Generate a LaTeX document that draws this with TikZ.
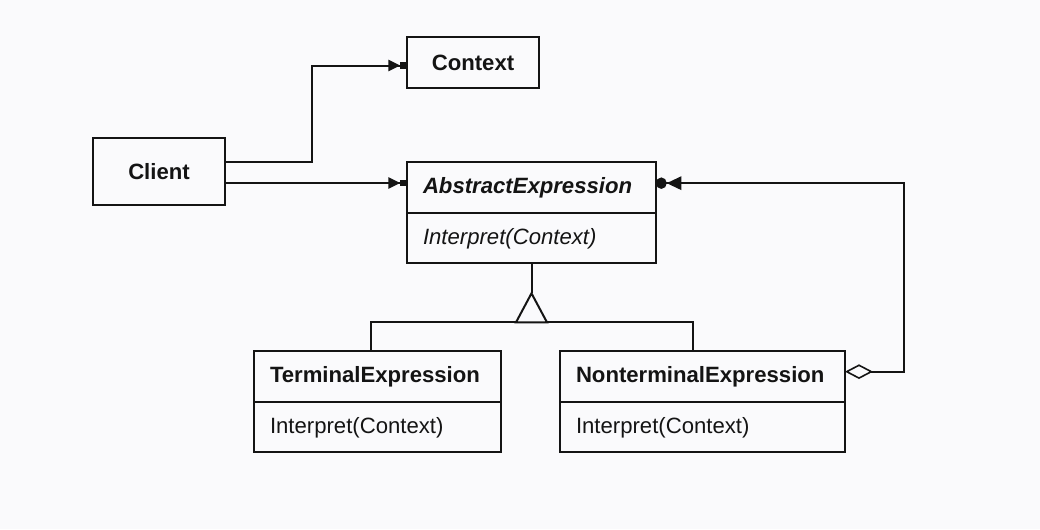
\documentclass[tikz,border=0pt]{standalone}
\usepackage{fontspec}
\setmainfont{Liberation Sans}
\usetikzlibrary{arrows.meta,calc}
\definecolor{paper}{RGB}{250,250,252}
\definecolor{ink}{RGB}{20,20,20}
\begin{document}
\begin{tikzpicture}[x=0.75pt,y=-0.75pt,
  every node/.style={font=\fontsize{16.6}{20}\selectfont, text=ink},
  box/.style={draw=ink, line width=1.5pt, fill=paper, inner sep=0pt, outer sep=0pt},
  classhead/.style={box, anchor=north west, align=left, inner xsep=12pt,
    minimum height=38.5pt, font=\fontsize{16.6}{20}\selectfont\bfseries},
  classops/.style={box, anchor=north west, align=left, inner xsep=12pt,
    minimum height=37.5pt},
  plain/.style={box, minimum width=99pt, font=\fontsize{16.6}{20}\selectfont\bfseries},
  wire/.style={draw=ink, line width=1.5pt},
  assoc/.style={wire, -{Triangle[length=9pt,width=8.5pt]Rectangle[length=5pt,width=5pt]}},
  aggr/.style={wire, {Diamond[open,length=21pt,width=11pt,line width=1.2pt]}-{Triangle[length=11pt,width=10pt]Circle[length=8pt,width=8.5pt]}}
]
\fill[paper] (0,0) rectangle (1040,529);
\useasboundingbox (0,0) rectangle (1040,529);

% plain classes
\node[plain, minimum height=38.25pt] (Context) at (473,62.5) {Context};
\node[plain, minimum height=50.25pt] (Client) at (159,171.5) {Client};

% abstract class
\node[classhead, text width=162.75pt, font=\fontsize{16.6}{20}\selectfont\bfseries\itshape] (AEh) at (407,162) {AbstractExpression};
\node[classops, text width=162.75pt, font=\fontsize{16.6}{20}\selectfont\itshape] (AEm) at (AEh.south west) {Interpret(Context)};

% concrete classes
\node[classhead, text width=161.25pt] (TEh) at (254,351) {TerminalExpression};
\node[classops, text width=161.25pt] (TEm) at (TEh.south west) {Interpret(Context)};
\node[classhead, text width=189.75pt] (NEh) at (560,351) {NonterminalExpression};
\node[classops, text width=189.75pt] (NEm) at (NEh.south west) {Interpret(Context)};

% Client associations
\coordinate (c0) at ($(Client.east)+(0,-9.5)$);
\coordinate (c1) at ($(Client.east)+(0,11.5)$);
\coordinate (ctx) at ($(Context.west)+(0,3)$);
\draw[assoc] (c0) -- ++(87,0) |- (ctx);
\draw[assoc] (c1) -- (c1 -| AEh.west);

% generalization
\coordinate (apex) at ($(AEm.south)+(0,30)$);
\coordinate (base) at ($(apex)+(0,29)$);
\coordinate (tj) at ($(TEh.north)+(-6.5,0)$);
\coordinate (nj) at ($(NEh.north)+(-9.5,0)$);
\draw[wire] (AEm.south) -- (apex);
\draw[wire] (tj) -- (tj |- base) -- (nj |- base) -- (nj);
\draw[wire, fill=paper, line join=miter] (apex) -- ($(base)+(-15.5,0)$) -- ($(base)+(15.5,0)$) -- cycle;

% aggregation back to the abstract class
\coordinate (na) at ($(NEh.east)+(0,-5)$);
\coordinate (aa) at ($(AEh.east)+(0,-4.5)$);
\draw[aggr] (na) -- ++(59,0) |- (aa);
\end{tikzpicture}
\end{document}
